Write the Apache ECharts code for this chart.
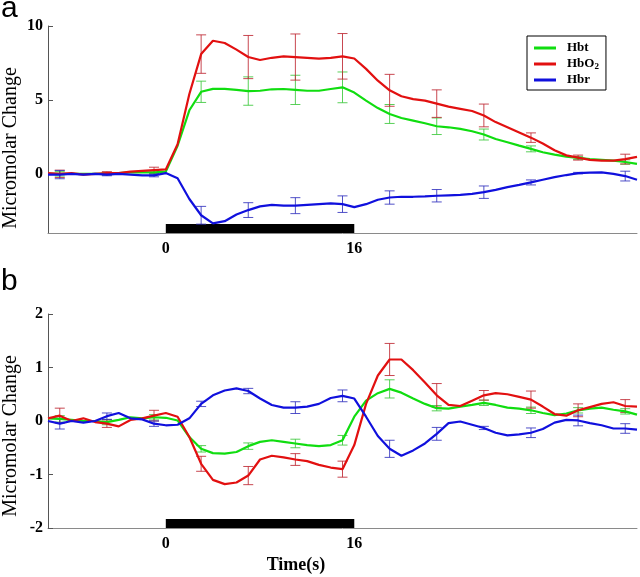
<!DOCTYPE html>
<html><head><meta charset="utf-8">
<script src="https://cdn.jsdelivr.net/npm/echarts@6/dist/echarts.min.js"></script>
<style>html,body{margin:0;padding:0;background:#fff}#c{width:640px;height:577px}</style>
</head><body><div id="c"></div>
<script>
// ---- data ----
const times = [-10,-9,-8,-7,-6,-5,-4,-3,-2,-1,0,1,2,3,4,5,6,7,8,9,10,11,12,13,14,15,16,17,18,19,20,21,22,23,24,25,26,27,28,29,30,31,32,33,34,35,36,37,38,39,40];

// panel a
const hbtA  = [0,0,0,0,0,0,0.05,0.1,0.1,0.1,0.15,1.9,4.3,5.55,5.75,5.75,5.68,5.6,5.62,5.72,5.74,5.68,5.62,5.62,5.74,5.85,5.5,4.95,4.45,4.05,3.78,3.6,3.42,3.22,3.15,3.04,2.88,2.66,2.36,2.14,1.91,1.69,1.46,1.3,1.17,1.08,1.0,0.95,0.9,0.8,0.68];
const hbo2A = [0.05,0,0.05,-0.05,0,0.05,0.05,0.15,0.2,0.25,0.3,2.0,5.4,8.1,9.0,8.85,8.4,7.9,7.7,7.85,7.95,7.9,7.85,7.8,7.85,7.95,7.8,7.1,6.3,5.65,5.25,5.05,4.95,4.75,4.55,4.4,4.25,3.95,3.5,3.15,2.8,2.45,2.05,1.6,1.25,1.1,0.95,0.9,0.9,1.0,1.15];
const hbrA  = [-0.05,-0.05,0,-0.05,0,-0.05,0,-0.05,-0.1,-0.1,0.05,-0.3,-1.7,-2.8,-3.35,-3.2,-2.75,-2.45,-2.2,-2.1,-2.15,-2.15,-2.1,-2.05,-2.0,-2.05,-2.25,-2.05,-1.75,-1.6,-1.55,-1.55,-1.52,-1.48,-1.45,-1.42,-1.35,-1.24,-1.08,-0.9,-0.75,-0.58,-0.4,-0.22,-0.08,0.05,0.08,0.1,0.0,-0.15,-0.4];

// panel b
const hbtB  = [0.05,0.04,0.02,0,0,-0.02,0.02,0.07,0.05,0.07,0.06,0.01,-0.3,-0.52,-0.6,-0.61,-0.58,-0.47,-0.39,-0.36,-0.39,-0.42,-0.45,-0.47,-0.45,-0.36,0.08,0.38,0.52,0.6,0.53,0.42,0.32,0.24,0.23,0.27,0.3,0.34,0.3,0.25,0.23,0.2,0.15,0.11,0.14,0.2,0.23,0.25,0.21,0.18,0.12];
const hbo2B = [0.05,0.1,0,0.05,-0.02,-0.05,-0.1,0.02,0.05,0.1,0.15,0.08,-0.3,-0.8,-1.1,-1.18,-1.15,-1.02,-0.72,-0.65,-0.68,-0.72,-0.75,-0.82,-0.87,-0.9,-0.45,0.32,0.85,1.15,1.15,0.95,0.72,0.48,0.3,0.28,0.38,0.48,0.52,0.5,0.45,0.4,0.27,0.13,0.1,0.2,0.26,0.32,0.35,0.28,0.27];
const hbrB  = [0,-0.05,0,-0.03,0,0.09,0.15,0.05,0.03,-0.05,-0.08,-0.07,0.05,0.32,0.48,0.57,0.61,0.56,0.42,0.3,0.25,0.25,0.27,0.32,0.43,0.47,0.42,0.08,-0.28,-0.52,-0.65,-0.55,-0.42,-0.24,-0.04,-0.01,-0.07,-0.13,-0.22,-0.27,-0.25,-0.22,-0.15,-0.03,0.02,0.01,-0.04,-0.08,-0.14,-0.14,-0.16];

// error bars (half widths) at these times
const errTimes = [-9,-5,-1,3,7,11,15,19,23,27,31,35,39];
const hbtErrA  = [0.15,0.08,0.12,0.72,0.96,0.99,1.04,0.64,0.56,0.37,0.2,0.1,0.15];
const hbo2ErrA = [0.25,0.1,0.2,1.3,1.46,1.56,1.54,1.08,0.93,0.77,0.32,0.17,0.33];
const hbrErrA  = [0.28,0.08,0.1,0.6,0.5,0.54,0.56,0.45,0.42,0.42,0.17,0.05,0.33];
const hbtErrB  = [0.06,0.05,0.05,0.06,0.06,0.08,0.09,0.17,0.05,0.05,0.06,0.05,0.05];
const hbo2ErrB = [0.14,0.07,0.1,0.14,0.17,0.11,0.15,0.3,0.22,0.09,0.16,0.12,0.12];
const hbrErrB  = [0.1,0.06,0.05,0.05,0.05,0.11,0.11,0.16,0.12,0.03,0.09,0.1,0.09];

const stimulus = [0, 16];
const xTickLabels = [0, 16];
const yTicksA = [0, 5, 10];
const yTicksB = [-2, -1, 0, 1, 2];
const seriesNames = ['Hbt', 'HbO2', 'Hbr'];

// ---- styles ----
const SERIF = '"Liberation Serif","Times New Roman",serif';
const colors = { Hbt: '#10dd10', HbO2: '#e21010', Hbr: '#1010dd' };
const errColors = { Hbt: 'rgba(60,200,60,0.85)', HbO2: 'rgba(190,40,50,0.85)', Hbr: 'rgba(50,50,190,0.85)' };
const yRange = [{min: -4, max: 10}, {min: -2, max: 2}];

function pairs(vals) { return times.map((t, i) => [t, vals[i]]); }
function errData(vals, errs) {
  return errTimes.map((t, i) => [t, vals[times.indexOf(t)], errs[i]]);
}
function errRender(color) {
  return function (params, api) {
    const x = api.value(0), y = api.value(1), e = api.value(2);
    const top = api.coord([x, y + e]);
    const bot = api.coord([x, y - e]);
    const hw = 5;
    const st = { stroke: color, lineWidth: 1 };
    return { type: 'group', children: [
      { type: 'line', shape: { x1: top[0], y1: top[1], x2: bot[0], y2: bot[1] }, style: st },
      { type: 'line', shape: { x1: top[0] - hw, y1: top[1], x2: top[0] + hw, y2: top[1] }, style: st },
      { type: 'line', shape: { x1: bot[0] - hw, y1: bot[1], x2: bot[0] + hw, y2: bot[1] }, style: st }
    ]};
  };
}
function stimRender(gi) {
  return function (params, api) {
    const p0 = api.coord([api.value(0), yRange[gi].min]);
    const p1 = api.coord([api.value(1), yRange[gi].min]);
    return { type: 'rect', shape: { x: p0[0], y: p0[1] - 9, width: p1[0] - p0[0], height: 9 }, style: { fill: '#000' } };
  };
}

const panels = [
  { Hbt: hbtA, HbO2: hbo2A, Hbr: hbrA, err: { Hbt: hbtErrA, HbO2: hbo2ErrA, Hbr: hbrErrA } },
  { Hbt: hbtB, HbO2: hbo2B, Hbr: hbrB, err: { Hbt: hbtErrB, HbO2: hbo2ErrB, Hbr: hbrErrB } }
];

const series = [];
panels.forEach((p, gi) => {
  series.push({ type: 'custom', xAxisIndex: gi, yAxisIndex: gi, data: [stimulus], renderItem: stimRender(gi), silent: true, z: 1 });
  seriesNames.forEach(n => {
    series.push({ type: 'custom', xAxisIndex: gi, yAxisIndex: gi, data: errData(p[n], p.err[n]), renderItem: errRender(errColors[n]), silent: true, z: 2 });
  });
  seriesNames.forEach(n => {
    series.push({ name: n, type: 'line', xAxisIndex: gi, yAxisIndex: gi, data: pairs(p[n]), showSymbol: false, symbol: 'none',
      lineStyle: { color: colors[n], width: 2.2 }, itemStyle: { color: colors[n] }, z: 3, animation: false });
  });
});

const xAxisBase = {
  type: 'value', min: -10, max: 40,
  axisLine: { show: true, onZero: false, lineStyle: { color: '#8a8a8a', width: 1 } },
  axisTick: { show: false },
  splitLine: { show: false },
  axisLabel: { customValues: xTickLabels, margin: 8, color: '#000', fontFamily: SERIF, fontWeight: 'bold', fontSize: 16 }
};
function yAxis(gi, ticks) {
  return {
    type: 'value', gridIndex: gi, min: yRange[gi].min, max: yRange[gi].max,
    axisLine: { show: true, onZero: false, lineStyle: { color: '#555', width: 1 } },
    axisTick: { show: true, inside: true, length: 5, customValues: ticks, lineStyle: { color: '#555' } },
    splitLine: { show: false },
    axisLabel: { customValues: ticks, margin: 5, color: '#000', fontFamily: SERIF, fontWeight: 'bold', fontSize: 16 }
  };
}

const option = {
  animation: false,
  backgroundColor: '#fff',
  grid: [
    { left: 48, top: 26, width: 589, height: 207 },
    { left: 48, top: 314, width: 589, height: 214 }
  ],
  xAxis: [ Object.assign({ gridIndex: 0 }, xAxisBase), Object.assign({ gridIndex: 1 }, xAxisBase) ],
  yAxis: [ yAxis(0, yTicksA), yAxis(1, yTicksB) ],
  legend: {
    data: seriesNames, orient: 'vertical', left: 527, top: 36,
    padding: [5, 7, 3, 7], itemGap: 2, itemWidth: 22, itemHeight: 3, icon: 'rect',
    borderColor: '#000', borderWidth: 1, backgroundColor: '#fff',
    formatter: n => n === 'HbO2' ? 'HbO{sub|2}' : n,
    textStyle: { fontFamily: SERIF, fontWeight: 'bold', fontSize: 13, color: '#000', padding: [0, 0, 0, 6], lineHeight: 14,
      rich: { sub: { fontFamily: SERIF, fontWeight: 'bold', fontSize: 9, color: '#000', verticalAlign: 'bottom', lineHeight: 14, padding: [5, 0, 0, 0] } } }
  },
  graphic: [
    { type: 'text', left: 1, top: -6, style: { text: 'a', font: '30px "Liberation Sans", Arial, sans-serif', fill: '#000' } },
    { type: 'text', left: 1, top: 267, style: { text: 'b', font: '30px "Liberation Sans", Arial, sans-serif', fill: '#000' } },
    { type: 'text', x: 11, y: 148, rotation: Math.PI / 2, style: { text: 'Micromolar Change', font: '20px ' + SERIF, fill: '#000', align: 'center', verticalAlign: 'middle' } },
    { type: 'text', x: 11, y: 436, rotation: Math.PI / 2, style: { text: 'Micromolar Change', font: '20px ' + SERIF, fill: '#000', align: 'center', verticalAlign: 'middle' } },
    { type: 'text', x: 296, y: 565, style: { text: 'Time(s)', font: 'bold 18px ' + SERIF, fill: '#000', align: 'center', verticalAlign: 'middle' } }
  ],
  series: series
};

const chart = echarts.init(document.getElementById('c'), null, { renderer: 'canvas' });
chart.setOption(option);
</script>
</body></html>
